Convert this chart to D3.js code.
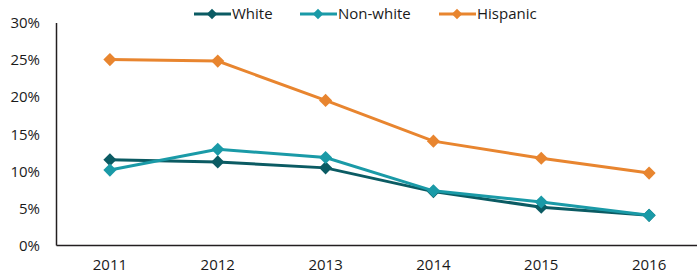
<!DOCTYPE html>
<html>
<head>
<meta charset="utf-8">
<script src="https://cdn.jsdelivr.net/npm/d3@7"></script>
<style>
  body { margin: 0; background: #fff; }
  text { font-family: "Open Sans", sans-serif; fill: #1a1a1a; }
</style>
</head>
<body>
<div id="chart"></div>
<script>
const years = ["2011", "2012", "2013", "2014", "2015", "2016"];
const white = [11.5, 11.2, 10.4, 7.2, 5.1, 4.0];
const nonWhite = [10.1, 12.9, 11.8, 7.3, 5.8, 4.0];
const hispanic = [25.0, 24.8, 19.5, 14.0, 11.7, 9.7];
const seriesNames = ["White", "Non-white", "Hispanic"];
const yTicks = [0, 5, 10, 15, 20, 25, 30];

const w = 697, h = 278;
const colors = ["#0b5b63", "#1a9aa7", "#e8852f"];
const series = [white, nonWhite, hispanic];

const svg = d3.select("#chart").append("svg").attr("width", w).attr("height", h);

const xScale = d3.scaleBand().domain(years).range([56, 703]);
const yScale = d3.scaleLinear().domain([0, 30]).range([245, 22.5]);

// axes
const yAxis = d3.axisLeft(yScale).tickValues(yTicks).tickSize(0).tickPadding(16).tickFormat(d => d + "%");
const gy = svg.append("g").attr("transform", "translate(56,0)").call(yAxis);
gy.select(".domain").attr("stroke", "#231f20").attr("stroke-width", 1.5);
gy.selectAll("text").style("font-size", "15px").attr("dy", "0.35em");

const xAxis = d3.axisBottom(xScale).tickSize(0).tickPadding(14);
const gx = svg.append("g").attr("transform", "translate(0,245)").call(xAxis);
gx.select(".domain").attr("stroke", "#231f20").attr("stroke-width", 1.5);
gx.selectAll("text").style("font-size", "15px");

const line = d3.line()
  .x((d, i) => xScale(years[i]) + xScale.bandwidth() / 2)
  .y(d => yScale(d));

const diamond = d3.symbol().type(d3.symbolDiamond2).size(110);

series.forEach((vals, k) => {
  svg.append("path").datum(vals)
    .attr("d", line)
    .attr("fill", "none")
    .attr("stroke", colors[k])
    .attr("stroke-width", 3);
  svg.selectAll(".pt" + k).data(vals).enter().append("path")
    .attr("class", "pt" + k)
    .attr("d", diamond)
    .attr("transform", (d, i) => `translate(${xScale(years[i]) + xScale.bandwidth() / 2},${yScale(d)})`)
    .attr("fill", colors[k]);
});

// legend
const legendX = [194, 300, 439];
const legend = svg.append("g").selectAll("g").data(seriesNames).enter().append("g")
  .attr("transform", (d, i) => `translate(${legendX[i]},14)`);
legend.append("line").attr("x1", 0).attr("x2", 37).attr("y1", 0).attr("y2", 0)
  .attr("stroke", (d, i) => colors[i]).attr("stroke-width", 3);
legend.append("path").attr("d", d3.symbol().type(d3.symbolDiamond2).size(70))
  .attr("transform", "translate(18,0)")
  .attr("fill", (d, i) => colors[i]);
legend.append("text").attr("x", 38).attr("dy", "0.35em")
  .style("font-size", "15px").text(d => d);
</script>
</body>
</html>
